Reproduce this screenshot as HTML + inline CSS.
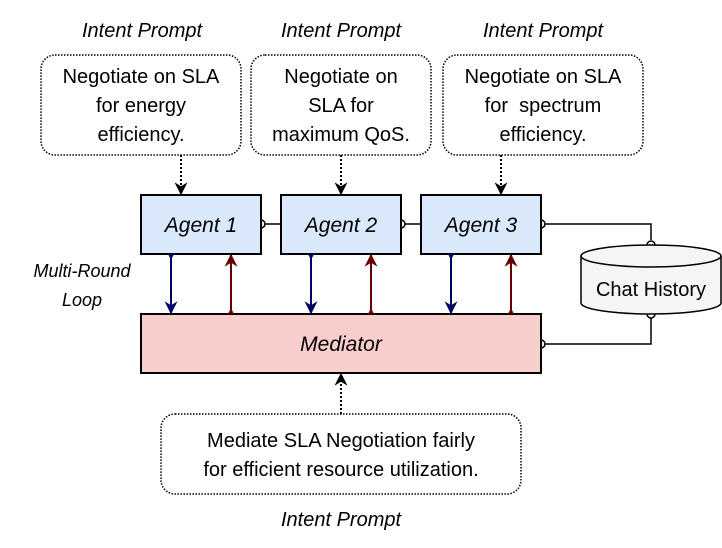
<!DOCTYPE html>
<html><head><meta charset="utf-8"><style>
html,body{margin:0;padding:0;background:#fff;}
svg{display:block;}
text{font-family:"Liberation Sans",Arial,sans-serif;fill:#000;}
</style></head><body>
<svg width="722" height="548" viewBox="0 0 722 548" xmlns="http://www.w3.org/2000/svg">
<defs>
<marker id="ab" viewBox="0 0 10 10" refX="9" refY="5" markerWidth="15" markerHeight="13" markerUnits="userSpaceOnUse" orient="auto"><path d="M0,0 L10,5 L0,10 L3,5 z" fill="#000"/></marker>
<marker id="an" viewBox="0 0 10 10" refX="9" refY="5" markerWidth="15" markerHeight="13" markerUnits="userSpaceOnUse" orient="auto"><path d="M0,0 L10,5 L0,10 L3,5 z" fill="#000066"/></marker>
<marker id="ar" viewBox="0 0 10 10" refX="9" refY="5" markerWidth="15" markerHeight="13" markerUnits="userSpaceOnUse" orient="auto"><path d="M0,0 L10,5 L0,10 L3,5 z" fill="#660000"/></marker>
</defs>
<g font-style="italic" font-size="20" text-anchor="middle">
<text x="142" y="37">Intent Prompt</text>
<text x="341" y="37">Intent Prompt</text>
<text x="543" y="37">Intent Prompt</text>
<text x="341" y="526">Intent Prompt</text>
</g>
<g fill="#fff" stroke="#000" stroke-width="1.5" stroke-dasharray="1.5,1.5">
<rect x="41" y="55" width="200" height="100" rx="14"/>
<rect x="251" y="55" width="180" height="100" rx="14"/>
<rect x="443" y="55" width="200" height="100" rx="14"/>
<rect x="161" y="414" width="360" height="80" rx="14"/>
</g>
<g font-size="20" text-anchor="middle">
<text x="141" y="83">Negotiate on SLA</text><text x="141" y="112">for energy</text><text x="141" y="141">efficiency.</text>
<text x="341" y="83">Negotiate on</text><text x="341" y="112">SLA for</text><text x="341" y="141">maximum QoS.</text>
<text x="543" y="83">Negotiate on SLA</text><text x="543" y="112">for&#160; spectrum</text><text x="543" y="141">efficiency.</text>
<text x="341" y="447">Mediate SLA Negotiation fairly</text><text x="341" y="476">for efficient resource utilization.</text>
</g>
<g stroke="#000" stroke-width="2" stroke-dasharray="2,2" fill="none">
<line x1="181" y1="155" x2="181" y2="194" marker-end="url(#ab)"/>
<line x1="341" y1="155" x2="341" y2="194" marker-end="url(#ab)"/>
<line x1="501" y1="155" x2="501" y2="194" marker-end="url(#ab)"/>
<line x1="341" y1="414" x2="341" y2="374" marker-end="url(#ab)"/>
</g>
<g fill="#dae8fc" stroke="#000" stroke-width="2">
<rect x="141" y="195" width="120" height="59"/>
<rect x="281" y="195" width="120" height="59"/>
<rect x="421" y="195" width="120" height="59"/>
</g>
<rect x="141" y="314" width="400" height="59" fill="#f8cecc" stroke="#000" stroke-width="2"/>
<g font-style="italic" font-size="21" text-anchor="middle">
<text x="201" y="232">Agent 1</text>
<text x="341" y="232">Agent 2</text>
<text x="481" y="232">Agent 3</text>
<text x="341" y="351">Mediator</text>
</g>
<g font-style="italic" font-size="18" text-anchor="middle">
<text x="82" y="277">Multi-Round</text>
<text x="82" y="306">Loop</text>
</g>
<g stroke="#000" stroke-width="1.5" fill="none">
<line x1="265" y1="224" x2="281" y2="224"/>
<line x1="405" y1="224" x2="421" y2="224"/>
<polyline points="545,224 651,224 651,240"/>
<polyline points="545,344 651,344 651,318"/>
<path d="M261,220 a4,4 0 0 1 0,8"/>
<path d="M401,220 a4,4 0 0 1 0,8"/>
<path d="M541,220 a4,4 0 0 1 0,8"/>
<path d="M541,340 a4,4 0 0 1 0,8"/>
<path d="M647,245 a4,4 0 0 1 8,0"/>
<path d="M647,314 a4,4 0 0 0 8,0"/>
</g>
<g stroke="#000" stroke-width="1.5" fill="#f5f5f5">
<path d="M581,256 L581,303 A70,11 0 0 0 721,303 L721,256 A70,11 0 0 0 581,256 Z"/>
<path d="M581,256 A70,11 0 0 0 721,256" fill="none"/>
</g>
<text x="651" y="296" font-size="20" text-anchor="middle">Chat History</text>
<g stroke-width="2" fill="none">
<line x1="171" y1="257" x2="171" y2="313" stroke="#000066" marker-end="url(#an)"/>
<line x1="311" y1="257" x2="311" y2="313" stroke="#000066" marker-end="url(#an)"/>
<line x1="451" y1="257" x2="451" y2="313" stroke="#000066" marker-end="url(#an)"/>
<line x1="231" y1="311" x2="231" y2="255" stroke="#660000" marker-end="url(#ar)"/>
<line x1="371" y1="311" x2="371" y2="255" stroke="#660000" marker-end="url(#ar)"/>
<line x1="511" y1="311" x2="511" y2="255" stroke="#660000" marker-end="url(#ar)"/>
</g>
<g>
<path d="M168,254 L174,254 L171,260 Z" fill="#000066"/>
<path d="M308,254 L314,254 L311,260 Z" fill="#000066"/>
<path d="M448,254 L454,254 L451,260 Z" fill="#000066"/>
<path d="M228,314 L234,314 L231,308 Z" fill="#660000"/>
<path d="M368,314 L374,314 L371,308 Z" fill="#660000"/>
<path d="M508,314 L514,314 L511,308 Z" fill="#660000"/>
</g>
</svg>
</body></html>
